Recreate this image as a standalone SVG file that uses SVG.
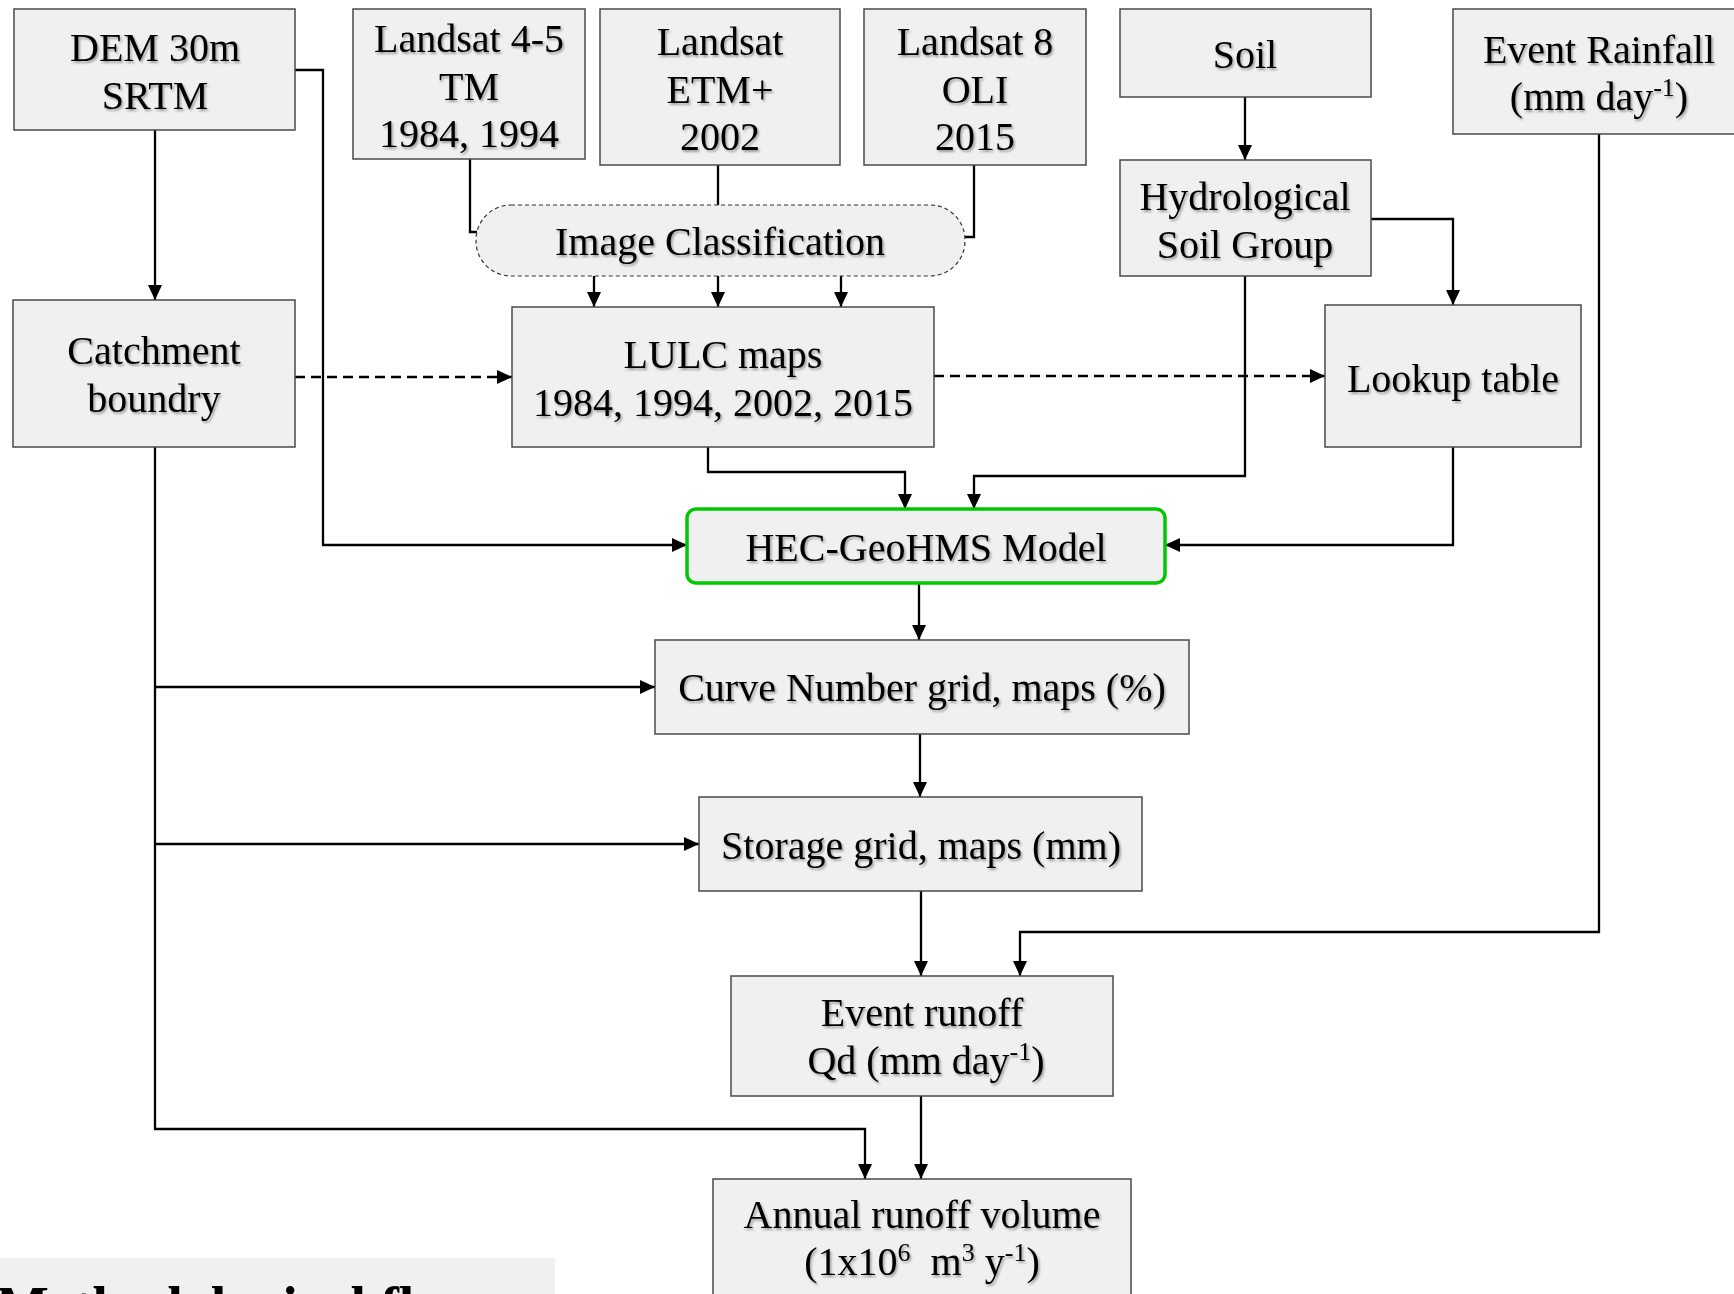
<svg xmlns="http://www.w3.org/2000/svg" width="1734" height="1294" viewBox="0 0 1734 1294">
<style>
.box{fill:#f0f0f0;stroke:#4a4a4a;stroke-width:1.5}
.t{font-family:"Liberation Serif","Times New Roman",serif;font-size:40px;fill:#000;text-anchor:middle;filter:url(#sh)}
.c{fill:none;stroke:#000;stroke-width:2.3}
.d{fill:none;stroke:#000;stroke-width:2.5;stroke-dasharray:10 6}
.sup{font-size:26px}
</style>
<defs>
<marker id="a" markerUnits="userSpaceOnUse" markerWidth="16" markerHeight="14" refX="15" refY="7" orient="auto">
<path d="M0,0 L15,7 L0,14 z" fill="#000"/>
</marker>
<filter id="sh" x="-5%" y="-20%" width="110%" height="150%">
<feDropShadow dx="1.5" dy="2" stdDeviation="1" flood-color="#000" flood-opacity="0.35"/>
</filter>
</defs>

<g id="connectors">
<path class="c" d="M155,130 V300" marker-end="url(#a)"/>
<path class="c" d="M295,70 H323 V545 H687" marker-end="url(#a)"/>
<path class="c" d="M470,159 V232 H477"/>
<path class="c" d="M718,165 V205"/>
<path class="c" d="M974,165 V237 H965"/>
<path class="c" d="M594,276 V307" marker-end="url(#a)"/>
<path class="c" d="M718,276 V307" marker-end="url(#a)"/>
<path class="c" d="M841,276 V307" marker-end="url(#a)"/>
<path class="d" d="M295,377 H512" marker-end="url(#a)"/>
<path class="d" d="M934,376 H1325" marker-end="url(#a)"/>
<path class="c" d="M1245,97 V160" marker-end="url(#a)"/>
<path class="c" d="M1371,219 H1453 V305" marker-end="url(#a)"/>
<path class="c" d="M1245,276 V476 H974 V509" marker-end="url(#a)"/>
<path class="c" d="M708,447 V472 H905 V509" marker-end="url(#a)"/>
<path class="c" d="M1453,447 V545 H1165" marker-end="url(#a)"/>
<path class="c" d="M1599,134 V932 H1020 V976" marker-end="url(#a)"/>
<path class="c" d="M919,583 V640" marker-end="url(#a)"/>
<path class="c" d="M920,734 V797" marker-end="url(#a)"/>
<path class="c" d="M921,891 V976" marker-end="url(#a)"/>
<path class="c" d="M921,1096 V1179" marker-end="url(#a)"/>
<path class="c" d="M155,447 V1129 H865 V1179" marker-end="url(#a)"/>
<path class="c" d="M155,687 H655" marker-end="url(#a)"/>
<path class="c" d="M155,844 H699" marker-end="url(#a)"/>
</g>

<g id="dem">
<rect class="box" x="14" y="9" width="281" height="121"/>
<text class="t" x="155" y="61">DEM 30m</text>
<text class="t" x="155" y="109">SRTM</text>
</g>
<g id="landsat45">
<rect class="box" x="353" y="9" width="232" height="150"/>
<text class="t" x="469" y="52">Landsat 4-5</text>
<text class="t" x="469" y="100">TM</text>
<text class="t" x="469" y="147">1984, 1994</text>
</g>
<g id="landsatetm">
<rect class="box" x="600" y="9" width="240" height="156"/>
<text class="t" x="720" y="55">Landsat</text>
<text class="t" x="720" y="103">ETM+</text>
<text class="t" x="720" y="150">2002</text>
</g>
<g id="landsat8">
<rect class="box" x="864" y="9" width="222" height="156"/>
<text class="t" x="975" y="55">Landsat 8</text>
<text class="t" x="975" y="103">OLI</text>
<text class="t" x="975" y="150">2015</text>
</g>
<g id="soil">
<rect class="box" x="1120" y="9" width="251" height="88"/>
<text class="t" x="1245" y="68">Soil</text>
</g>
<g id="rainfall">
<rect class="box" x="1453" y="9" width="290" height="125"/>
<text class="t" x="1599" y="63">Event Rainfall</text>
<text class="t" x="1599" y="110">(mm day<tspan class="sup" dy="-14">-1</tspan><tspan dy="14">)</tspan></text>
</g>
<g id="imageclass">
<rect x="476" y="205" width="489" height="71" rx="35" ry="35" fill="#f0f0f0" stroke="#333" stroke-width="1.2" stroke-dasharray="4 3"/>
<text class="t" x="720" y="255">Image Classification</text>
</g>
<g id="hsg">
<rect class="box" x="1120" y="160" width="251" height="116"/>
<text class="t" x="1245" y="210">Hydrological</text>
<text class="t" x="1245" y="258">Soil Group</text>
</g>
<g id="catchment">
<rect class="box" x="13" y="300" width="282" height="147"/>
<text class="t" x="154" y="364">Catchment</text>
<text class="t" x="154" y="412">boundry</text>
</g>
<g id="lulc">
<rect class="box" x="512" y="307" width="422" height="140"/>
<text class="t" x="723" y="368">LULC maps</text>
<text class="t" x="723" y="416">1984, 1994, 2002, 2015</text>
</g>
<g id="lookup">
<rect class="box" x="1325" y="305" width="256" height="142"/>
<text class="t" x="1453" y="392">Lookup table</text>
</g>
<g id="hec">
<rect x="687" y="509" width="478" height="74" rx="9" ry="9" fill="#f0f0f0" stroke="#00c800" stroke-width="3.5"/>
<text class="t" x="926" y="561">HEC-GeoHMS Model</text>
</g>
<g id="curve">
<rect class="box" x="655" y="640" width="534" height="94"/>
<text class="t" x="922" y="701">Curve Number grid, maps (%)</text>
</g>
<g id="storage">
<rect class="box" x="699" y="797" width="443" height="94"/>
<text class="t" x="921" y="859">Storage grid, maps (mm)</text>
</g>
<g id="eventrunoff">
<rect class="box" x="731" y="976" width="382" height="120"/>
<text class="t" x="922" y="1026">Event runoff</text>
<text class="t" x="926" y="1074">Qd (mm day<tspan class="sup" dy="-14">-1</tspan><tspan dy="14">)</tspan></text>
</g>
<g id="annual">
<rect class="box" x="713" y="1179" width="418" height="130"/>
<text class="t" x="922" y="1228">Annual runoff volume</text>
<text class="t" x="922" y="1275" xml:space="preserve">(1x10<tspan class="sup" dy="-14">6</tspan><tspan dy="14">  m</tspan><tspan class="sup" dy="-14">3</tspan><tspan dy="14"> y</tspan><tspan class="sup" dy="-14">-1</tspan><tspan dy="14">)</tspan></text>
</g>
<g id="caption">
<rect x="0" y="1258" width="555" height="40" fill="#f0f0f0"/>
<text x="-4" y="1326" font-family="Liberation Serif, serif" font-weight="bold" font-size="56" fill="#000">Methodological flow</text>
</g>
</svg>
